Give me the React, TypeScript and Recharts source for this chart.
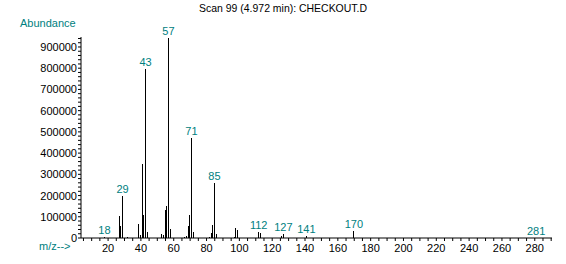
import React from 'react';
import { BarChart, Bar, XAxis, YAxis, LabelList } from 'recharts';

const mzValues = [18, 27, 28, 29, 32, 39, 40, 41, 42, 43, 44, 53, 54, 55, 56, 57, 58, 67, 68, 69, 70, 71, 72, 82, 83, 84, 85, 86, 97, 98, 99, 112, 113, 126, 127, 141, 170, 281];
const abundanceValues = [5000, 102000, 55000, 196000, 7000, 64000, 12000, 347000, 107000, 798000, 27000, 17000, 12000, 130000, 149000, 940000, 41000, 6000, 9000, 55000, 107000, 469000, 27000, 6000, 22000, 61000, 259000, 20000, 5000, 46000, 36000, 27000, 22000, 10000, 18000, 8000, 33000, 2000];
const labeledPeaks = [18, 29, 43, 57, 71, 85, 112, 127, 141, 170, 281];

const xTicks: number[] = [];
for (let v = 5; v <= 290; v += 5) xTicks.push(v);
const yTicks: number[] = [];
for (let v = 0; v <= 940000; v += 20000) yTicks.push(v);

const data = mzValues.map((mz, i) => ({
  mz,
  abundance: abundanceValues[i],
  label: labeledPeaks.includes(mz) ? String(mz) : '',
}));

const FONT = '"Liberation Sans", Arial, sans-serif';
const TEAL = '#008080';

const Stick = (props: any) => {
  const { x, y, width, height } = props;
  if (x == null || y == null) return null;
  const cx = Math.floor(x + width / 2) + 0.5;
  return <line x1={cx} x2={cx} y1={y} y2={y + height} stroke="#000" strokeWidth={1} shapeRendering="crispEdges" />;
};

const PeakLabel = (props: any) => {
  const { x, y, width, value } = props;
  if (!value) return null;
  return (
    <text x={x + width / 2} y={y - 3} textAnchor="middle" fill={TEAL} fontSize={11} fontFamily={FONT}>
      {value}
    </text>
  );
};

const XTick = (props: any) => {
  const { x, y, payload } = props;
  const v = payload.value;
  if (v % 20 !== 0) return null;
  return (
    <text x={x} y={y + 9} textAnchor="middle" fill="#000" fontSize={11} fontFamily={FONT}>
      {v}
    </text>
  );
};

const YTick = (props: any) => {
  const { x, y, payload } = props;
  const v = payload.value;
  if (v % 100000 !== 0) return null;
  return (
    <text x={x} y={y + 4} textAnchor="end" fill="#000" fontSize={11} fontFamily={FONT}>
      {v}
    </text>
  );
};

export default function App() {
  return (
    <div style={{ position: 'absolute', left: 0, top: 0, width: 566, height: 264, background: '#fff' }}>
      <BarChart width={566} height={264} data={data} margin={{ top: 37, right: 14, bottom: 0, left: 0 }}>
        <XAxis
          type="number"
          dataKey="mz"
          domain={[3.5, 290.5]}
          allowDataOverflow
          ticks={xTicks}
          interval={0}
          tick={<XTick />}
          tickSize={3}
          tickMargin={2}
          height={26}
          axisLine={{ stroke: '#000' }}
          tickLine={{ stroke: '#000' }}
        />
        <YAxis
          type="number"
          domain={[0, 947000]}
          allowDataOverflow
          ticks={yTicks}
          interval={0}
          tick={<YTick />}
          tickSize={3}
          tickMargin={1}
          width={81}
          axisLine={{ stroke: '#000' }}
          tickLine={{ stroke: '#000' }}
        />
        <Bar dataKey="abundance" barSize={1} shape={<Stick />} isAnimationActive={false}>
          <LabelList dataKey="label" content={<PeakLabel />} />
        </Bar>
      </BarChart>
      <svg width={566} height={264} style={{ position: 'absolute', left: 0, top: 0, pointerEvents: 'none' }}>
        <text x={199} y={12} fontSize={11} fontFamily={FONT} fill="#000" textLength={168} lengthAdjust="spacingAndGlyphs">
          Scan 99 (4.972 min): CHECKOUT.D
        </text>
        <text x={20} y={26.5} fontSize={11} fontFamily={FONT} fill={TEAL}>
          Abundance
        </text>
        <text x={39} y={250} fontSize={11} fontFamily={FONT} fill={TEAL}>
          m/z--&gt;
        </text>
      </svg>
    </div>
  );
}
